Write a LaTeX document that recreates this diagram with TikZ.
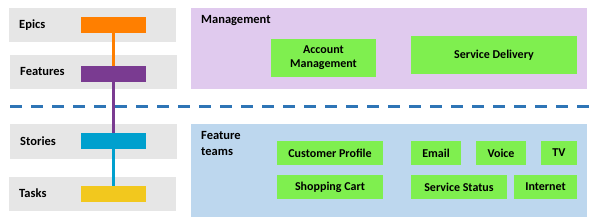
\documentclass[tikz,border=0pt]{standalone}
\usepackage{fontspec}
\setmainfont{Carlito}
\definecolor{graybg}{HTML}{E6E6E6}
\definecolor{lav}{HTML}{E0CAEE}
\definecolor{lblue}{HTML}{BDD7EE}
\definecolor{grn}{HTML}{7FEF4F}
\definecolor{cor}{HTML}{FF7F00}
\definecolor{cpu}{HTML}{7A3B91}
\definecolor{ccy}{HTML}{00A0CE}
\definecolor{cye}{HTML}{F2C81E}
\definecolor{dashblue}{HTML}{2E75B6}
\tikzset{
  bg/.style={fill=#1, draw=none, inner sep=0pt},
  bar/.style={fill=#1, draw=none, inner sep=0pt, minimum width=65, minimum height=16},
  team/.style={fill=grn, draw=none, inner sep=0pt, font=\bfseries\fontsize{12}{14}\selectfont, align=center, text=black},
  lbl/.style={font=\bfseries\fontsize{12.5}{16}\selectfont, inner sep=0pt, anchor=base west, text=black},
  link/.style={draw=#1, line width=3pt},
}
\begin{document}
\begin{tikzpicture}[x=1pt,y=-1pt]
\useasboundingbox (0,0) rectangle (597,224);
% left gray rows
\node[bg=graybg, minimum width=167, minimum height=34] (rowE) at (92.5,25) {};
\node[bg=graybg, minimum width=167, minimum height=34] (rowF) at (93.5,72) {};
\node[bg=graybg, minimum width=167, minimum height=35] (rowS) at (93.5,141.5) {};
\node[bg=graybg, minimum width=167, minimum height=34] (rowT) at (92.5,194) {};
\node[lbl] (tE) at (19,29) {Epics};
\node[lbl] (tF) at (20,76) {Features};
\node[lbl] (tS) at (20,146) {Stories};
\node[lbl] (tT) at (19,198) {Tasks};
% right panels
\node[bg=lav, minimum width=396, minimum height=81] (mgmt) at (389,48.5) {};
\node[bg=lblue, minimum width=396, minimum height=93] (ft) at (389,170.5) {};
\node[lbl] (tM) at (201,24) {Management};
\node[lbl, anchor=north west, align=left] (tFT) at (201,131.5) {Feature\\teams};
% dashed divider
\coordinate (dL) at (10,107);
\coordinate (dR) at (590,107);
\draw[dashblue, line width=3pt, dash pattern=on 12pt off 9pt] (dL) -- (dR);
% connectors and bars
\node[bar=cor] (bE) at (113.5,25) {};
\node[bar=cpu] (bF) at (113.5,74) {};
\node[bar=ccy] (bS) at (113.5,141) {};
\node[bar=cye] (bT) at (113.5,194) {};
\draw[link=cor] (bE.south) -- (bF.north);
\draw[link=cpu] (bF.south) -- (bS.north);
\draw[link=ccy] (bS.south) -- (bT.north);
% team boxes
\node[team, minimum width=105, minimum height=38] (acc) at (323.5,58) {Account\\Management};
\node[team, minimum width=166, minimum height=38] (sd) at (494,55) {Service Delivery};
\node[team, minimum width=106, minimum height=24] (cp) at (330,153) {Customer Profile};
\node[team, minimum width=106, minimum height=24] (sc) at (330,187) {Shopping Cart};
\node[team, minimum width=50, minimum height=24] (em) at (436,153) {Email};
\node[team, minimum width=50, minimum height=24] (vo) at (501,153) {Voice};
\node[team, minimum width=36, minimum height=24] (tv) at (559,153) {TV};
\node[team, minimum width=96, minimum height=24] (ss) at (459,187) {Service Status};
\node[team, minimum width=63, minimum height=24] (in) at (545.5,187) {Internet};
\end{tikzpicture}
\end{document}
